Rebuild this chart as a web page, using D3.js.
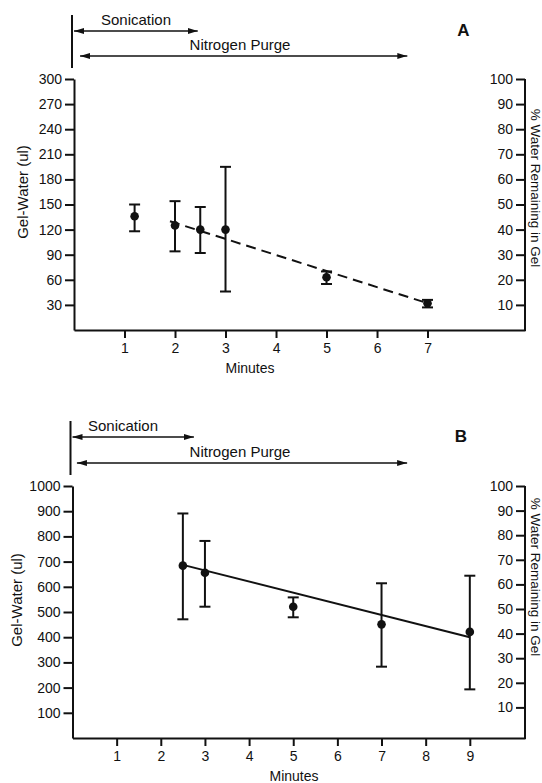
<!DOCTYPE html>
<html>
<head>
<meta charset="utf-8">
<script src="https://cdn.jsdelivr.net/npm/d3@7"></script>
<style>
  html, body { margin: 0; padding: 0; background: #fff; }
  svg { display: block; }
  text { font-family: "Liberation Sans", Arial, Helvetica, sans-serif; fill: #111; }
</style>
</head>
<body>
<svg id="chart" width="542" height="783"></svg>
<script>
// Panel A: gel water after sonication / nitrogen purge
const minutesA   = [1.2, 2, 2.5, 3, 5, 7];
const gelWaterA  = [136, 125, 120, 120, 63, 32];
const errLowA    = [118, 94, 92, 46, 55, 27];
const errHighA   = [150, 154, 147, 195, 70, 36];
const fitMinutesA = [1.9, 7];
const fitValuesA  = [130, 32];
const leftTicksA  = [30, 60, 90, 120, 150, 180, 210, 240, 270, 300];
const xTicksA     = [1, 2, 3, 4, 5, 6, 7];
const sonicationA = [0, 2.45];
const purgeA      = [0.12, 6.6];

// Panel B
const minutesB   = [2.5, 3, 5, 7, 9];
const gelWaterB  = [684, 656, 521, 451, 421];
const errLowB    = [471, 521, 479, 283, 193];
const errHighB   = [891, 782, 558, 614, 644];
const fitMinutesB = [2.5, 9];
const fitValuesB  = [687, 400];
const leftTicksB  = [100, 200, 300, 400, 500, 600, 700, 800, 900, 1000];
const xTicksB     = [1, 2, 3, 4, 5, 6, 7, 8, 9];
const sonicationB = [0, 2.75];
const purgeB      = [0.1, 7.58];

// Right axis: percent of water remaining in the gel
const rightTicks = [10, 20, 30, 40, 50, 60, 70, 80, 90, 100];

const svg = d3.select("#chart");
const ink = "#111";

const defs = svg.append("defs");
defs.append("marker")
  .attr("id", "arrow")
  .attr("viewBox", "0 0 10 6")
  .attr("refX", 10).attr("refY", 3)
  .attr("markerWidth", 10).attr("markerHeight", 6)
  .attr("markerUnits", "userSpaceOnUse")
  .attr("orient", "auto-start-reverse")
  .append("path").attr("d", "M0,0 L10,3 L0,6 Z").attr("fill", ink);

function drawPanel(p) {
  const g = svg.append("g");
  const x = d3.scaleLinear().domain(p.xDomain).range([p.left, p.right]);
  const y = d3.scaleLinear().domain([0, p.yMax]).range([p.bottom, p.top]);
  const yR = d3.scaleLinear().domain([0, 100]).range([p.rightBottom, p.top]);
  const fmt = d3.format("d");

  // Left axis
  const ax = g.append("g").attr("transform", `translate(${p.left},0)`)
    .call(d3.axisLeft(y).tickValues(p.leftTicks).tickFormat(fmt)
      .tickSize(9).tickPadding(3).tickSizeOuter(0));
  // Right axis, ticks and labels facing the plot
  const axR = g.append("g").attr("transform", `translate(${p.right},0)`)
    .call(d3.axisLeft(yR).tickValues(rightTicks).tickFormat(fmt)
      .tickSize(9).tickPadding(3).tickSizeOuter(0));
  axR.select(".domain").remove();
  g.append("line")
    .attr("x1", p.right).attr("x2", p.right)
    .attr("y1", p.bottom + 1).attr("y2", p.top)
    .attr("stroke", ink).attr("stroke-width", 2);
  // Bottom axis
  const axB = g.append("g").attr("transform", `translate(0,${p.bottom})`)
    .call(d3.axisBottom(x).tickValues(p.xTicks).tickFormat(fmt)
      .tickSize(8).tickPadding(5).tickSizeOuter(0));

  [ax, axR, axB].forEach(a => {
    a.selectAll(".domain").attr("stroke", ink).attr("stroke-width", 2);
    a.selectAll(".tick line").attr("stroke", ink).attr("stroke-width", 2);
    a.selectAll(".tick text").attr("fill", ink)
      .style("font-family", "'Liberation Sans', Arial, sans-serif")
      .style("font-size", "14px");
  });

  // Axis titles
  g.append("text")
    .attr("transform", `translate(${p.leftTitleX},${p.leftTitleY}) rotate(-90)`)
    .attr("text-anchor", "middle").style("font-size", "15px")
    .text("Gel-Water (ul)");
  g.append("text")
    .attr("transform", `translate(${p.rightTitleX},${p.rightTitleY}) rotate(90)`)
    .attr("text-anchor", "middle").style("font-size", "13.5px")
    .text("% Water Remaining in Gel");
  g.append("text")
    .attr("x", p.minutesX).attr("y", p.minutesY)
    .attr("text-anchor", "middle").style("font-size", "14px")
    .text("Minutes");

  // Treatment annotations above the plot
  g.append("line")
    .attr("x1", x(0) - 2).attr("x2", x(0) - 2)
    .attr("y1", p.markTop).attr("y2", p.markBottom)
    .attr("stroke", ink).attr("stroke-width", 2);
  const spans = [
    { label: "Sonication", range: p.sonication, y: p.sonY, labelX: p.sonLabelX },
    { label: "Nitrogen Purge", range: p.purge, y: p.purgeY, labelX: p.purgeLabelX }
  ];
  spans.forEach(s => {
    g.append("line")
      .attr("x1", x(s.range[0])).attr("x2", x(s.range[1]))
      .attr("y1", s.y).attr("y2", s.y)
      .attr("stroke", ink).attr("stroke-width", 1.6)
      .attr("marker-start", "url(#arrow)").attr("marker-end", "url(#arrow)");
    g.append("text")
      .attr("x", s.labelX).attr("y", s.y - 6)
      .attr("text-anchor", "middle").style("font-size", "15px")
      .text(s.label);
  });

  g.append("text")
    .attr("x", p.letterX).attr("y", p.letterY)
    .attr("text-anchor", "middle")
    .style("font-size", "17px").style("font-weight", "bold")
    .text(p.letter);

  // Fitted trend line
  const fit = p.fitMinutes.map((m, i) => [m, p.fitValues[i]]);
  g.append("path")
    .datum(fit)
    .attr("d", d3.line().x(d => x(d[0])).y(d => y(d[1])))
    .attr("fill", "none").attr("stroke", ink).attr("stroke-width", 2)
    .attr("stroke-dasharray", p.dashed ? "10,6" : null);

  // Error bars and mean points
  const pts = p.minutes.map((m, i) => ({ m, v: p.values[i], lo: p.lows[i], hi: p.highs[i] }));
  const cap = 5.5;
  const eb = g.append("g").selectAll("g").data(pts).join("g");
  eb.append("line")
    .attr("x1", d => x(d.m)).attr("x2", d => x(d.m))
    .attr("y1", d => y(d.lo)).attr("y2", d => y(d.hi))
    .attr("stroke", ink).attr("stroke-width", 2);
  eb.append("line")
    .attr("x1", d => x(d.m) - cap).attr("x2", d => x(d.m) + cap)
    .attr("y1", d => y(d.hi)).attr("y2", d => y(d.hi))
    .attr("stroke", ink).attr("stroke-width", 2);
  eb.append("line")
    .attr("x1", d => x(d.m) - cap).attr("x2", d => x(d.m) + cap)
    .attr("y1", d => y(d.lo)).attr("y2", d => y(d.lo))
    .attr("stroke", ink).attr("stroke-width", 2);
  eb.append("circle")
    .attr("cx", d => x(d.m)).attr("cy", d => y(d.v))
    .attr("r", 4.3).attr("fill", ink);
}

drawPanel({
  letter: "A", letterX: 463.5, letterY: 36,
  xDomain: [0, 8.93], left: 74, right: 525,
  yMax: 300, top: 79, bottom: 330, rightBottom: 330,
  leftTicks: leftTicksA, xTicks: xTicksA,
  minutes: minutesA, values: gelWaterA, lows: errLowA, highs: errHighA,
  fitMinutes: fitMinutesA, fitValues: fitValuesA, dashed: true,
  sonication: sonicationA, purge: purgeA,
  sonY: 31, sonLabelX: 136, purgeY: 56, purgeLabelX: 240,
  markTop: 15, markBottom: 68,
  leftTitleX: 28, leftTitleY: 192,
  rightTitleX: 531, rightTitleY: 188,
  minutesX: 250, minutesY: 373
});

drawPanel({
  letter: "B", letterX: 461, letterY: 442,
  xDomain: [0, 10.25], left: 72.5, right: 525,
  yMax: 1000, top: 486, bottom: 738, rightBottom: 732,
  leftTicks: leftTicksB, xTicks: xTicksB,
  minutes: minutesB, values: gelWaterB, lows: errLowB, highs: errHighB,
  fitMinutes: fitMinutesB, fitValues: fitValuesB, dashed: false,
  sonication: sonicationB, purge: purgeB,
  sonY: 437, sonLabelX: 123, purgeY: 463, purgeLabelX: 240,
  markTop: 421, markBottom: 475,
  leftTitleX: 22, leftTitleY: 600,
  rightTitleX: 531, rightTitleY: 577,
  minutesX: 294, minutesY: 781
});
</script>
</body>
</html>
